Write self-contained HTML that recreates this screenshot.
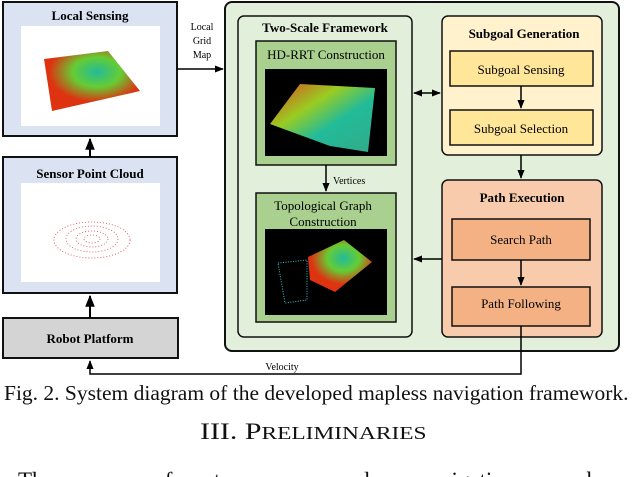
<!DOCTYPE html>
<html style="height:477px;overflow:hidden"><head><meta charset="utf-8"><style>
html,body{margin:0;background:#fff;width:640px;height:477px;overflow:hidden}
body{position:relative}
svg{position:absolute;left:0;top:0}
.cap{position:absolute;font-family:"Liberation Serif",serif;color:#111;white-space:nowrap;transform-origin:0 0}
</style></head><body>
<svg width="640" height="477" viewBox="0 0 640 477" font-family="Liberation Serif, serif">
<defs>
<marker id="a" viewBox="0 0 10 10" refX="9" refY="5" markerWidth="6" markerHeight="6" orient="auto-start-reverse"><path d="M0,1 L10,5 L0,9 z" fill="#000"/></marker>
<linearGradient id="g1" x1="0" y1="0" x2="1" y2="1"><stop offset="0" stop-color="#d42"/><stop offset="0.35" stop-color="#9c2"/><stop offset="0.6" stop-color="#2b9"/><stop offset="1" stop-color="#3a8"/></linearGradient>
<radialGradient id="g2" cx="0.55" cy="0.35" r="0.5"><stop offset="0" stop-color="#2b9"/><stop offset="0.5" stop-color="#6c3"/><stop offset="1" stop-color="#d31"/></radialGradient>
</defs>
<rect x="3" y="2" width="174" height="134" fill="#dbe3f3" stroke="#111" stroke-width="2"/>
<text x="90" y="20" text-anchor="middle" font-weight="bold" font-size="13">Local Sensing</text>
<rect x="21" y="26" width="139" height="100" fill="#fff"/>
<polygon points="44,59 108,51 140,91 52,111" fill="url(#g2)"/>
<rect x="3" y="157" width="174" height="136" fill="#dbe3f3" stroke="#111" stroke-width="2"/>
<text x="90" y="178" text-anchor="middle" font-weight="bold" font-size="13">Sensor Point Cloud</text>
<rect x="21" y="183" width="139" height="99" fill="#fff"/>
<g fill="none" stroke="#d44" stroke-width="0.8" stroke-dasharray="1 2">
<ellipse cx="92" cy="239" rx="8" ry="4"/><ellipse cx="92" cy="239" rx="16" ry="8"/><ellipse cx="92" cy="239" rx="26" ry="13"/><ellipse cx="92" cy="240" rx="38" ry="18"/></g>
<rect x="3" y="318" width="175" height="40" fill="#d4d4d4" stroke="#111" stroke-width="2"/>
<text x="90" y="343" text-anchor="middle" font-weight="bold" font-size="13">Robot Platform</text>
<line x1="90" y1="318" x2="90" y2="296" stroke="#000" stroke-width="2" marker-end="url(#a)"/>
<line x1="90" y1="157" x2="90" y2="139" stroke="#000" stroke-width="2" marker-end="url(#a)"/>
<line x1="177" y1="69" x2="223" y2="69" stroke="#000" stroke-width="1.5" marker-end="url(#a)"/>
<text x="202" y="30" text-anchor="middle" font-size="10">Local</text>
<text x="202" y="44" text-anchor="middle" font-size="10">Grid</text>
<text x="202" y="58" text-anchor="middle" font-size="10">Map</text>
<rect x="225" y="2" width="394" height="349" rx="7" fill="#e2efda" stroke="#111" stroke-width="2"/>
<rect x="238" y="16" width="174" height="321" rx="6" fill="#e2efda" stroke="#111" stroke-width="1.5"/>
<text x="325" y="32" text-anchor="middle" font-weight="bold" font-size="13">Two-Scale Framework</text>
<rect x="256" y="41" width="140" height="124" fill="#a9d08e" stroke="#111" stroke-width="1.5"/>
<text x="326" y="59" text-anchor="middle" font-size="13">HD-RRT Construction</text>
<rect x="265" y="69" width="122" height="87" fill="#000"/>
<polygon points="270,124 300,84 375,88 368,152 330,146" fill="url(#g1)"/>
<line x1="326" y1="165" x2="326" y2="191" stroke="#000" stroke-width="1.5" marker-end="url(#a)"/>
<text x="333" y="184" font-size="10">Vertices</text>
<rect x="256" y="193" width="140" height="129" fill="#a9d08e" stroke="#111" stroke-width="1.5"/>
<text x="323" y="210" text-anchor="middle" font-size="13">Topological Graph</text>
<text x="323" y="226" text-anchor="middle" font-size="13">Construction</text>
<rect x="265" y="229" width="122" height="86" fill="#000"/>
<polygon points="278,263 307,260 307,300 285,303" fill="none" stroke="#3cc" stroke-width="1" stroke-dasharray="1 1.5"/>
<polygon points="308,257 344,240 372,262 335,292 310,280" fill="url(#g2)"/>
<rect x="442" y="16" width="160" height="139" rx="6" fill="#fff2cc" stroke="#111" stroke-width="1.5"/>
<text x="524" y="38" text-anchor="middle" font-weight="bold" font-size="13">Subgoal Generation</text>
<rect x="450" y="51" width="143" height="35" fill="#ffe699" stroke="#111" stroke-width="1.5"/>
<text x="521" y="74" text-anchor="middle" font-size="13">Subgoal Sensing</text>
<line x1="521" y1="86" x2="521" y2="108" stroke="#000" stroke-width="1.5" marker-end="url(#a)"/>
<rect x="450" y="110" width="143" height="35" fill="#ffe699" stroke="#111" stroke-width="1.5"/>
<text x="521" y="133" text-anchor="middle" font-size="13">Subgoal Selection</text>
<line x1="414" y1="93" x2="440" y2="93" stroke="#000" stroke-width="1.5" marker-start="url(#a)" marker-end="url(#a)"/>
<line x1="521" y1="155" x2="521" y2="178" stroke="#000" stroke-width="1.5" marker-end="url(#a)"/>
<rect x="442" y="180" width="160" height="157" rx="6" fill="#f8cbad" stroke="#111" stroke-width="1.5"/>
<text x="522" y="202" text-anchor="middle" font-weight="bold" font-size="13">Path Execution</text>
<rect x="452" y="219" width="138" height="41" fill="#f4b183" stroke="#111" stroke-width="1.5"/>
<text x="521" y="244" text-anchor="middle" font-size="13">Search Path</text>
<line x1="521" y1="260" x2="521" y2="285" stroke="#000" stroke-width="1.5" marker-end="url(#a)"/>
<rect x="452" y="287" width="138" height="39" fill="#f4b183" stroke="#111" stroke-width="1.5"/>
<text x="521" y="308" text-anchor="middle" font-size="13">Path  Following</text>
<line x1="442" y1="259" x2="414" y2="259" stroke="#000" stroke-width="1.5" marker-end="url(#a)"/>
<polyline points="521,326 521,374 90,374 90,361" fill="none" stroke="#000" stroke-width="1.5" marker-end="url(#a)"/>
<text x="282" y="370" text-anchor="middle" font-size="10">Velocity</text>
</svg>
<div class="cap" style="left:4px;top:381px;font-size:21.5px">Fig. 2. System diagram of the developed mapless navigation framework.</div>
<div class="cap" style="left:200px;top:419px;font-size:23px;transform:scaleX(1.3)">III. P<span style="font-size:18px">RELIMINARIES</span></div>
<div class="cap" style="left:18px;top:468px;font-size:23px;word-spacing:14px">The course of autonomous mapless navigation can be</div>
</body></html>
